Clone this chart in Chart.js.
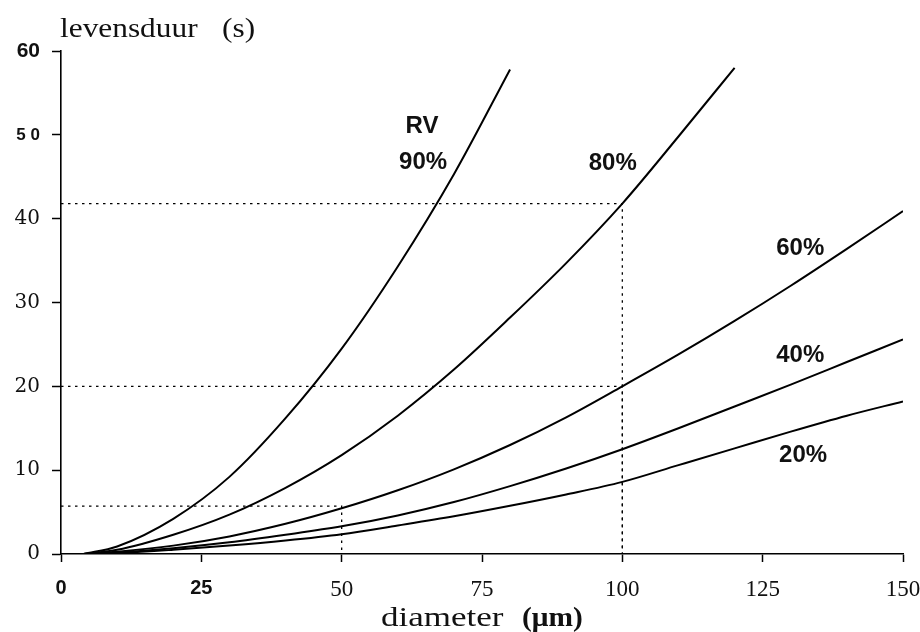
<!DOCTYPE html>
<html>
<head>
<meta charset="utf-8">
<script src="https://cdn.jsdelivr.net/npm/chart.js@4/dist/chart.umd.min.js"></script>
<style>
  html, body { margin: 0; padding: 0; background: #fff; }
  #wrap { width: 920px; height: 632px; }
</style>
</head>
<body>
<div id="wrap"><canvas id="lifeChart" width="920" height="632"></canvas></div>
<script>
// ── Data ───────────────────────────────────────────────────────
const diameters = [4, 10, 20, 30, 40, 50, 60, 70, 80, 90, 100, 110, 120, 130, 140, 150];
const rv90 = [0, 0.9, 4.2, 9.2, 16.2, 24.5, 34.3, 45.3, 57.8, null, null, null, null, null, null, null];
const rv80 = [0, 0.5, 2.3, 4.7, 7.9, 11.8, 16.5, 22.0, 28.2, 34.7, 41.8, 49.8, 58.0, null, null, null];
const rv60 = [0, 0.28, 1.0, 2.1, 3.6, 5.45, 7.6, 10.1, 13.0, 16.3, 20.0, 23.8, 27.8, 32.0, 36.4, 40.9];
const rv40 = [0, 0.18, 0.7, 1.4, 2.3, 3.3, 4.6, 6.2, 8.1, 10.2, 12.5, 15.0, 17.6, 20.2, 22.9, 25.6];
const rv20 = [0, 0.1, 0.5, 1.0, 1.6, 2.35, 3.4, 4.5, 5.75, 7.1, 8.6, 10.6, 12.6, 14.6, 16.5, 18.2];

// dotted read-off lines: level on y, diameter where it drops to the axis
const guideLevels = [41.8, 20, 5.7];
const guideDiameters = [100, 100, 50];

// curve annotations (data coordinates)
const curveLabels = ['RV', '90%', '80%', '60%', '40%', '20%'];
const curveLabelX = [64.3, 64.5, 98.3, 131.7, 131.7, 132.2];
const curveLabelY = [51.0, 46.7, 46.6, 36.4, 23.7, 11.8];

const xTickValues = [0, 25, 50, 75, 100, 125, 150];
const yTickValues = [0, 10, 20, 30, 40, 50, 60];
const yTickText = ['0', '10', '20', '30', '40', '5 0', '60'];

// ── Build datasets ─────────────────────────────────────────────
const toPoints = arr => diameters
  .map((d, i) => ({ x: d, y: arr[i] }))
  .filter(p => p.y !== null);

const curveSets = [rv90, rv80, rv60, rv40, rv20].map(arr => ({
  data: toPoints(arr),
  showLine: true,
  borderColor: '#000',
  borderWidth: 2,
  pointRadius: 0,
  cubicInterpolationMode: 'monotone',
  fill: false,
}));

const guideSets = guideLevels.map((lv, i) => ({
  data: [{ x: 0, y: lv }, { x: guideDiameters[i], y: lv }, { x: guideDiameters[i], y: 0 }],
  showLine: true,
  borderColor: '#000',
  borderWidth: 1.3,
  borderDash: [2.5, 4.5],
  pointRadius: 0,
  tension: 0,
  fill: false,
}));

// ── Text overlay: axis titles + curve labels ───────────────────
const overlay = {
  id: 'overlay',
  afterDraw(chart) {
    const { ctx, chartArea, scales } = chart;
    const stretched = (txt, x, y, font, sx) => {
      ctx.save();
      ctx.translate(x, y);
      ctx.scale(sx, 1);
      ctx.font = font;
      ctx.textAlign = 'left';
      ctx.textBaseline = 'alphabetic';
      ctx.fillText(txt, 0, 0);
      ctx.restore();
    };
    ctx.fillStyle = '#111';
    stretched('levensduur', chartArea.left - 1, 37, '28px "Liberation Serif"', 1.12);
    stretched('(s)', chartArea.left + 161, 37, '28px "Liberation Serif"', 1.12);
    stretched('diameter', 381, 626, '28px "Liberation Serif"', 1.25);
    stretched('(μm)', 522, 626, 'bold 28px "Liberation Serif"', 1.05);

    ctx.save();
    ctx.font = 'bold 24px "Liberation Sans"';
    ctx.textAlign = 'center';
    ctx.textBaseline = 'middle';
    curveLabels.forEach((t, i) => {
      ctx.fillText(t, scales.x.getPixelForValue(curveLabelX[i]), scales.y.getPixelForValue(curveLabelY[i]));
    });
    ctx.restore();
  }
};

// ── Chart ──────────────────────────────────────────────────────
new Chart(document.getElementById('lifeChart'), {
  type: 'scatter',
  data: { datasets: [...curveSets, ...guideSets] },
  options: {
    responsive: false,
    animation: false,
    devicePixelRatio: 1,
    layout: { padding: { top: 51, right: 0, left: 0, bottom: 0 } },
    plugins: {
      legend: { display: false },
      tooltip: { enabled: false },
    },
    scales: {
      x: {
        type: 'linear',
        min: 0,
        max: 150,
        afterFit: s => { s.height = 78; s.paddingRight = 17; s.paddingLeft = 0; },
        afterBuildTicks: s => { s.ticks = xTickValues.map(v => ({ value: v })); },
        border: { display: true, color: '#000', width: 1.6 },
        grid: { drawOnChartArea: false, drawTicks: true, tickLength: 8, tickColor: '#000', tickWidth: 1.5 },
        ticks: {
          padding: 14,
          color: '#111',
          maxRotation: 0,
          font: ctx => (ctx.tick && ctx.tick.value <= 25)
            ? { family: '"Liberation Sans"', size: 20, weight: 'bold' }
            : { family: '"Liberation Serif"', size: 23, weight: 'normal' },
        },
      },
      y: {
        type: 'linear',
        min: 0,
        max: 60,
        afterFit: s => { s.width = 61; },
        afterBuildTicks: s => { s.ticks = yTickValues.map(v => ({ value: v })); },
        border: { display: true, color: '#000', width: 1.6 },
        grid: { drawOnChartArea: false, drawTicks: true, tickLength: 9, tickColor: '#000', tickWidth: 1.5 },
        ticks: {
          padding: 12,
          color: '#111',
          callback: v => yTickText[yTickValues.indexOf(v)],
          font: ctx => {
            const v = ctx.tick ? ctx.tick.value : 0;
            if (v === 60) return { family: '"Liberation Sans"', size: 21, weight: 'bold' };
            if (v === 50) return { family: '"Liberation Sans"', size: 17, weight: 'bold' };
            return { family: '"DejaVu Serif"', size: 20, weight: 'normal' };
          },
        },
      },
    },
  },
  plugins: [overlay],
});
</script>
</body>
</html>
